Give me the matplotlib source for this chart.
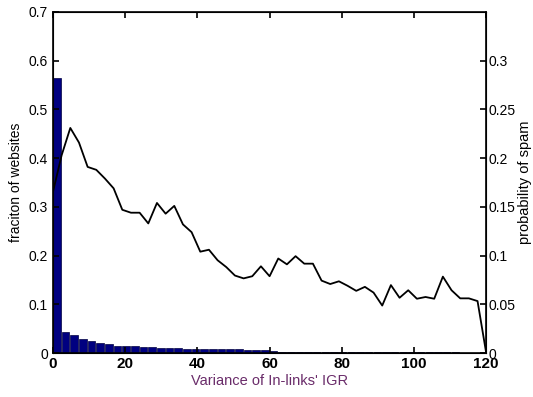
import numpy as np
import matplotlib
matplotlib.use('Agg')
import matplotlib.pyplot as plt

plt.rcParams['font.family'] = ['Liberation Sans', 'DejaVu Sans']

# bin left edges (variance of in-links' IGR), 50 bins of width 2.4
bin_step = 2.4
frac_websites = [0.565, 0.0435, 0.037, 0.029, 0.025, 0.021, 0.018, 0.015, 0.015, 0.0145,
                 0.013, 0.013, 0.011, 0.011, 0.0095, 0.009, 0.009, 0.0085, 0.008, 0.008,
                 0.008, 0.008, 0.007, 0.007, 0.0065, 0.004, 0.003, 0.003, 0.0025, 0.0025,
                 0.0025, 0.002, 0.002, 0.002, 0.002, 0.0015, 0.0015, 0.0015, 0.0015, 0.0015,
                 0.0012, 0.0012, 0.0012, 0.0012, 0.003, 0.0012, 0.003, 0.001, 0.001, 0.001]

# probability of spam at bin edges 0, 2.4, ..., 120
prob_spam = [0.1655, 0.203, 0.231, 0.216, 0.191, 0.188, 0.179, 0.169, 0.147, 0.144,
             0.144, 0.133, 0.154, 0.143, 0.151, 0.132, 0.124, 0.104, 0.106, 0.0952,
             0.0882, 0.0795, 0.0766, 0.0788, 0.089, 0.0788, 0.097, 0.091, 0.0994, 0.0917,
             0.0917, 0.0743, 0.0708, 0.0736, 0.069, 0.0638, 0.0679, 0.062, 0.0487, 0.0697,
             0.0567, 0.0644, 0.0557, 0.0575, 0.0557, 0.0784, 0.0644, 0.0561, 0.0561, 0.0533,
             0.0]

bar_x = np.arange(len(frac_websites)) * bin_step
line_x = np.arange(len(prob_spam)) * bin_step

fig = plt.figure(figsize=(5.33, 3.97), dpi=100)
ax = fig.add_axes([0.0994, 0.1108, 0.8128, 0.859])
ax.bar(bar_x, frac_websites, width=2.1, align='edge', color='#000080',
       edgecolor='#000040', linewidth=0.5)
ax.set_xlim(0, 120)
ax.set_ylim(0, 0.7)
ax.set_xticks(np.arange(0, 121, 20))
ax.set_yticks(np.arange(0, 0.71, 0.1))
ax.set_yticklabels(['0', '0.1', '0.2', '0.3', '0.4', '0.5', '0.6', '0.7'])
ax.tick_params(axis='both', direction='in', length=4, width=1.2, labelsize=10)
ax.tick_params(axis='x', top=True, pad=3)
for lbl in ax.get_xticklabels():
    lbl.set_fontweight('bold')
    lbl.set_fontsize(11)
ax.set_xlabel("Variance of In-links' IGR", color='#6a2c6a', fontsize=10.5, labelpad=2)
ax.set_ylabel('fraciton of websites', fontsize=10, labelpad=4)
for s in ax.spines.values():
    s.set_linewidth(1.2)

ax2 = ax.twinx()
ax2.plot(line_x, prob_spam, color='black', linewidth=1.3)
ax2.set_ylim(0, 0.35)
ax2.set_yticks([0, 0.05, 0.1, 0.15, 0.2, 0.25, 0.3])
ax2.set_yticklabels(['0', '0.05', '0.1', '0.15', '0.2', '0.25', '0.3'])
ax2.tick_params(axis='y', direction='in', length=4, width=1.2, labelsize=10, pad=2)
ax2.set_ylabel('probability of spam', fontsize=10.5)
ax2.yaxis.set_label_coords(1.074, 0.5)

fig.savefig('out.png', dpi=100)
